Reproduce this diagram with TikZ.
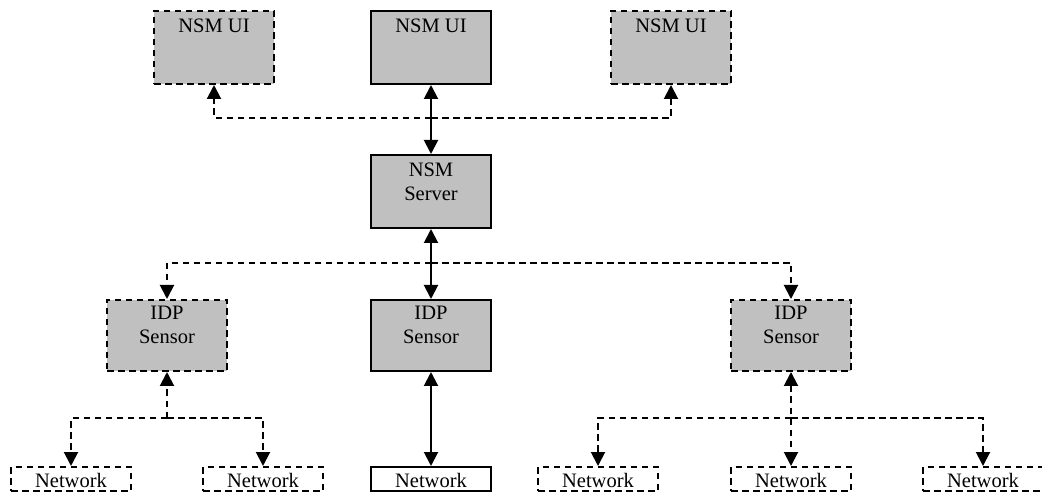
\documentclass[tikz,border=0pt]{standalone}
\usepackage{fontspec}
\setmainfont{Liberation Serif}
\usetikzlibrary{arrows.meta}
\definecolor{boxgray}{HTML}{C0C0C0}
\tikzset{
  lw/.style={line width=2pt},
  dsh/.style={lw, dash pattern=on 6.5pt off 4.5pt},
  graybox/.style={draw, lw, fill=boxgray, minimum width=120pt, inner sep=0pt, anchor=north},
  netbox/.style={draw, lw, fill=white, minimum width=120pt, minimum height=24pt, inner sep=0pt, anchor=north},
  lbl/.style={font=\fontsize{20.5}{24.5}\selectfont, align=center, inner sep=0pt, anchor=north},
  tip/.style={-{Triangle[length=14pt,width=14pt]}},
  tips/.style={{Triangle[length=14pt,width=14pt]}-{Triangle[length=14pt,width=14pt]}},
}
\begin{document}
\begin{tikzpicture}[x=1pt,y=-1pt]
\useasboundingbox (0,0) rectangle (1042,494);
% top UI boxes
\node[graybox, dsh, minimum height=73pt] (uiL) at (214,10) {};
\node[graybox, minimum height=73pt] (uiC) at (431,10) {};
\node[graybox, dsh, minimum height=73pt] (uiR) at (671,10) {};
\node[lbl] (tuiL) at ([yshift=-8.5pt]uiL.north) {NSM UI};
\node[lbl] (tuiC) at ([yshift=-8.5pt]uiC.north) {NSM UI};
\node[lbl] (tuiR) at ([yshift=-8.5pt]uiR.north) {NSM UI};
% server
\node[graybox, minimum height=73pt] (srv) at (431,154) {};
\node[lbl] (tsrv) at ([yshift=-8.5pt]srv.north) {NSM\\Server};
% sensors
\node[graybox, dsh, minimum height=71pt] (idpL) at (167,299) {};
\node[graybox, minimum height=71pt] (idpC) at (431,299) {};
\node[graybox, dsh, minimum height=71pt] (idpR) at (791,299) {};
\node[lbl] (tidpL) at ([yshift=-6.5pt]idpL.north) {IDP\\Sensor};
\node[lbl] (tidpC) at ([yshift=-6.5pt]idpC.north) {IDP\\Sensor};
\node[lbl] (tidpR) at ([yshift=-6.5pt]idpR.north) {IDP\\Sensor};
% networks
\node[netbox, dsh] (n1) at (71,466) {};
\node[netbox, dsh] (n2) at (263,466) {};
\node[netbox] (n3) at (431,466) {};
\node[netbox, dsh] (n4) at (598,466) {};
\node[netbox, dsh] (n5) at (791,466) {};
\node[netbox, dsh] (n6) at (983,466) {};
\foreach \n in {n1,n2,n3,n4,n5,n6}{
  \node[lbl] (t\n) at ([yshift=-7.5pt]\n.north) {Network};
}
% coordinates for junctions
\coordinate (j1) at (431,118);
\coordinate (j2) at (431,263);
\coordinate (j3) at (167,418);
\coordinate (j4) at (791,418);
% connectors
\draw[lw, tips] (uiC.south) -- (srv.north);
\draw[dsh, tip] (j1) -| (uiL.south);
\draw[dsh, tip] (j1) -| (uiR.south);
\draw[lw, tips] (srv.south) -- (idpC.north);
\draw[dsh, tip] (j2) -| (idpL.north);
\draw[dsh, tip] (j2) -| (idpR.north);
\draw[dsh, tip] (j3) -- (idpL.south);
\draw[dsh, tip] (j3) -| (n1.north);
\draw[dsh, tip] (j3) -| (n2.north);
\draw[lw, tips] (idpC.south) -- (n3.north);
\draw[dsh, tips] (idpR.south) -- (n5.north);
\draw[dsh, tip] (j4) -| (n4.north);
\draw[dsh, tip] (j4) -| (n6.north);
\end{tikzpicture}
\end{document}
